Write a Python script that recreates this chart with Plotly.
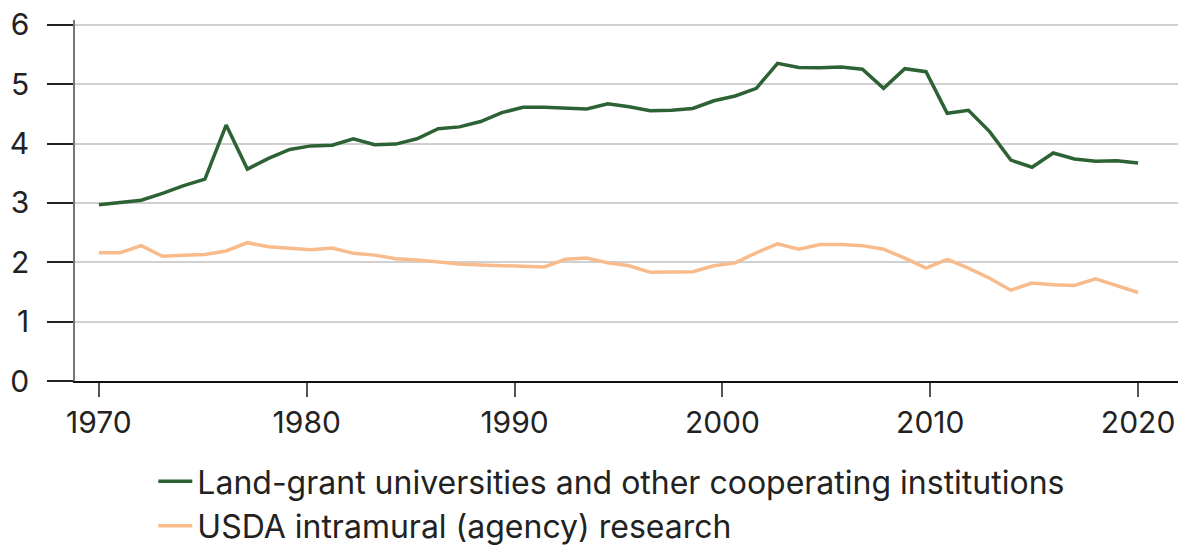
import numpy as np
import plotly.graph_objects as go

# Funding series, 50 reporting periods spread evenly over 1970-2020
land_grant = [
    2.97, 3.01, 3.045, 3.16, 3.29, 3.40, 4.31, 3.57, 3.75, 3.90,
    3.96, 3.97, 4.08, 3.98, 3.99, 4.08, 4.25, 4.28, 4.37, 4.52,
    4.61, 4.61, 4.60, 4.58, 4.67, 4.62, 4.55, 4.56, 4.59, 4.72,
    4.80, 4.93, 5.35, 5.28, 5.275, 5.29, 5.25, 4.93, 5.26, 5.21,
    4.51, 4.56, 4.20, 3.72, 3.60, 3.84, 3.74, 3.70, 3.71, 3.67,
]
usda_intramural = [
    2.16, 2.16, 2.28, 2.10, 2.12, 2.13, 2.19, 2.33, 2.26, 2.23,
    2.21, 2.24, 2.15, 2.12, 2.06, 2.04, 2.01, 1.97, 1.955, 1.94,
    1.93, 1.92, 2.05, 2.07, 1.99, 1.94, 1.83, 1.83, 1.84, 1.94,
    1.99, 2.16, 2.31, 2.22, 2.30, 2.30, 2.28, 2.22, 2.07, 1.90,
    2.05, 1.90, 1.73, 1.53, 1.65, 1.62, 1.61, 1.72, 1.60, 1.49,
]
period = np.linspace(1970, 2020, len(land_grant))

year_ticks = [1970, 1980, 1990, 2000, 2010, 2020]
value_ticks = [0, 1, 2, 3, 4, 5, 6]

series_names = [
    "Land-grant universities and other cooperating institutions",
    "USDA intramural (agency) research",
]
series_colors = ["#2d6235", "#f8bb8c"]

FONT = "Inter, Roboto, sans-serif"
TEXT = "#222222"

fig = go.Figure()
for name, values, color in zip(series_names, [land_grant, usda_intramural], series_colors):
    fig.add_trace(go.Scatter(
        x=period, y=values, mode="lines", name=name,
        line=dict(color=color, width=3.5),
    ))

fig.update_layout(
    width=1178, height=546,
    margin=dict(l=75, r=0, t=20, b=165, autoexpand=False),
    paper_bgcolor="white", plot_bgcolor="white",
    font=dict(family=FONT, size=30, color=TEXT),
    showlegend=True,
    legend=dict(
        orientation="v",
        x=0.071, xanchor="left",
        y=-0.202, yanchor="top",
        font=dict(family=FONT, size=32, color=TEXT),
        bgcolor="rgba(0,0,0,0)",
        itemwidth=34,
        tracegroupgap=0,
    ),
)

fig.update_xaxes(
    range=[1968.85, 2021.92],
    tickvals=year_ticks,
    ticks="outside", ticklen=14, tickwidth=1.5, tickcolor="#555555",
    showline=True, linecolor="#111111", linewidth=1.5,
    showgrid=False, zeroline=False,
    tickfont=dict(family=FONT, size=30, color=TEXT),
)
fig.update_yaxes(
    range=[0, 6.08],
    tickvals=value_ticks,
    ticks="outside", ticklen=26, tickwidth=1.5, tickcolor="#222222",
    showline=True, linecolor="#777777", linewidth=1.5,
    showgrid=True, gridcolor="#d0d0d0", gridwidth=1.5,
    zeroline=False,
    ticklabelstandoff=12,
    tickfont=dict(family=FONT, size=30, color=TEXT),
)

fig.write_html("out.html")
